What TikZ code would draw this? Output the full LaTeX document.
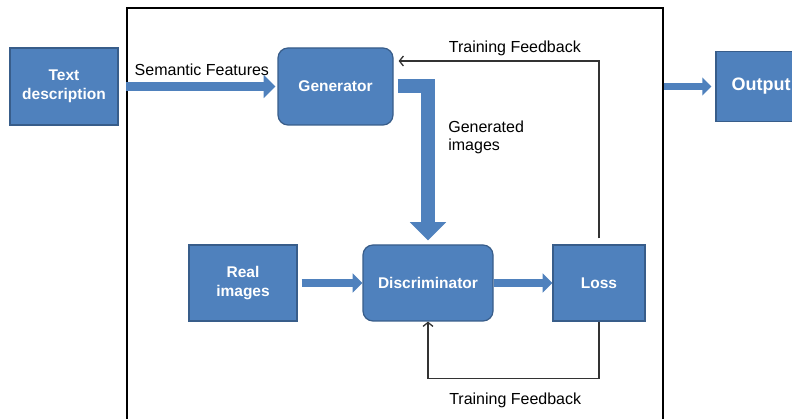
\documentclass[tikz,border=0pt]{standalone}
\usepackage{fontspec}
\setmainfont{Liberation Sans}
\usepackage{tikz}
\usetikzlibrary{positioning,arrows.meta}
\definecolor{boxblue}{HTML}{4F81BD}
\definecolor{boxedge}{HTML}{385D8A}
\definecolor{fbgray}{HTML}{333333}

\begin{document}
\begin{tikzpicture}[x=1pt, y=-1pt, node distance = 100pt, on grid, auto,
font=\fontsize{16}{18}\selectfont,
block/.style={draw=boxedge, line width=1.2pt, fill=boxblue, text=white,
  font=\fontsize{15.5}{19}\selectfont\bfseries, align=center, inner sep=0pt},
rblock/.style={block, rounded corners=10pt},
fat/.style={line width=#1, color=boxblue,
  -{Triangle[width=0pt 2.5, length=0pt 1.3]}},
fb/.style={draw=fbgray, line width=1.3pt, -{Straight Barb[length=4pt,width=10pt]}}]
\useasboundingbox (0,0) rectangle (792,419);
\node [draw=black, line width=1.3pt, minimum width=536pt, minimum height=432pt,
  inner sep=0pt] (frame) at (395,224) {};
\node [block, minimum width=108pt, minimum height=77pt] (text) at (64,86.5) {Text\\description};
\node [rblock, minimum width=115pt, minimum height=77pt] (gen) [right = 271.5pt of text] {Generator};
\node [rblock, minimum width=130pt, minimum height=76pt] (disc) [below right = 196.5pt and 92.5pt of gen] {Discriminator};
\node [block, minimum width=108pt, minimum height=76pt] (real) [left = 185pt of disc] {Real\\images};
\node [block, minimum width=92pt, minimum height=76pt] (loss) [right = 171pt of disc] {Loss};
\node [block, minimum width=90pt, minimum height=70pt, font=\fontsize{18}{20}\selectfont\bfseries]
  (out) [right = 425.5pt of gen] {Output};
\draw [fat=9pt, shorten >=2pt] (frame.west |- gen) -- (gen)
node [midway, above=3pt, text=black] {Semantic Features};
\draw [fat=7pt, shorten >=4pt] (frame.east |- out) -- (out);
\draw [fat=7.5pt, shorten <=4pt] (real) -- (disc);
\draw [fat=7.5pt] (disc) -- (loss);
\draw [fat=14pt] ([xshift=4pt]gen.east) -| ([yshift=4pt]disc.north)
node [pos=0.666, right=10pt, align=left, text=black] {Generated\\images};
\draw [fb] ([yshift=6pt]loss.north) |- ([xshift=5pt,yshift=25.5pt]gen.east)
node [pos=0.71, above=1pt] {Training Feedback};
\draw [fb] (loss.south) -- ++(0,57) -| (disc.south)
node [pos=0.245, below=10pt] {Training Feedback};
\end{tikzpicture}
\end{document}
